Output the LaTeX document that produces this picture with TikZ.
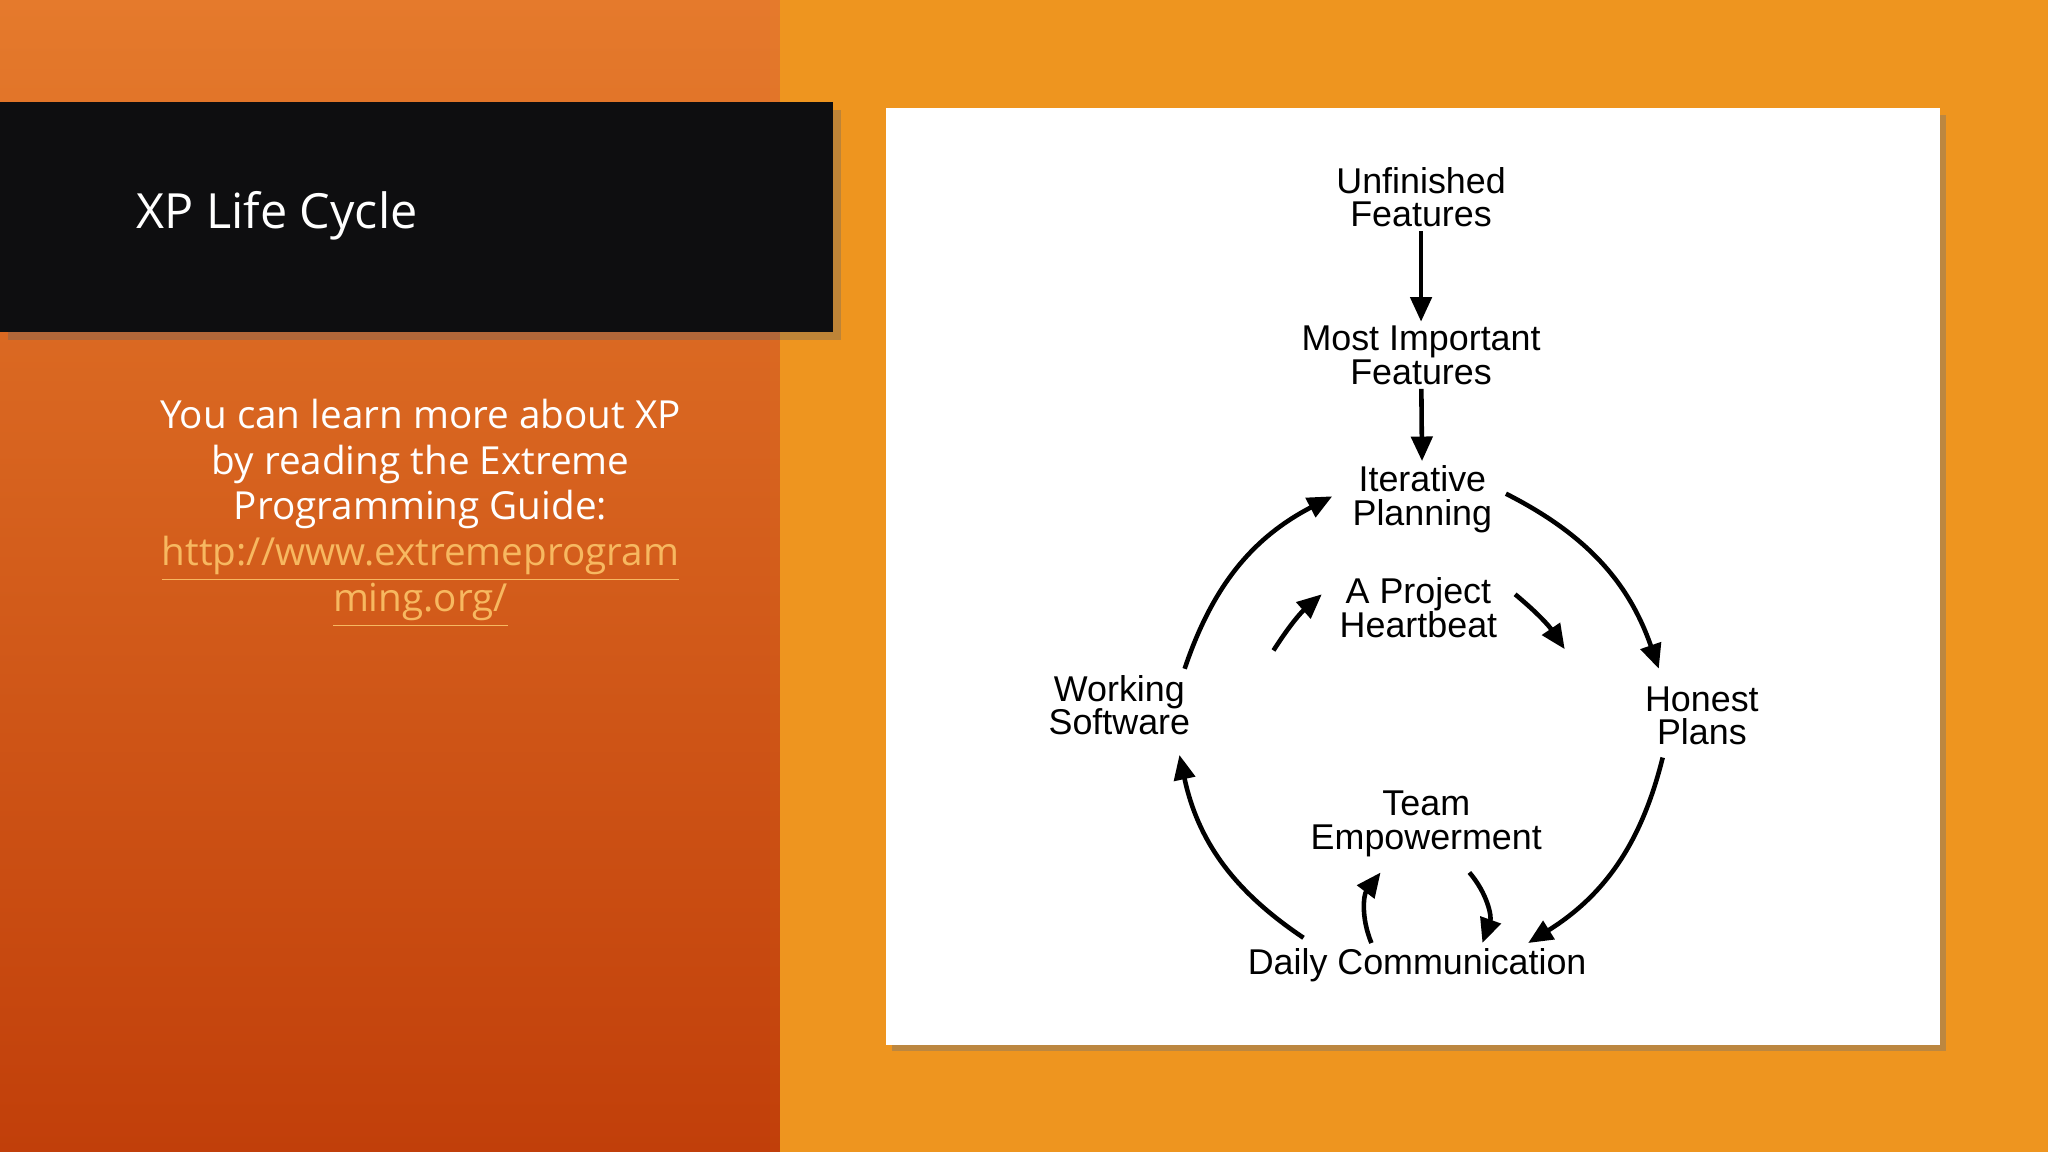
\documentclass[tikz,border=0pt]{standalone}
\usepackage{fontspec}
\setmainfont{Open Sans}
\newfontfamily\diag{Liberation Sans}
\usetikzlibrary{arrows.meta,shadows}
\definecolor{bgor}{HTML}{EE951F}
\definecolor{gtop}{HTML}{E57A2C}
\definecolor{gbot}{HTML}{C13F0A}
\definecolor{linkc}{HTML}{F7B860}
\definecolor{titbg}{HTML}{0E0E10}
\tikzset{
 lbl/.style={font=\diag\fontsize{10.2}{9.6}\selectfont,align=center,inner sep=1pt},
 arr/.style={-{Triangle[length=7pt,width=6pt]},line width=1.3pt,black},
}
\begin{document}
\begin{tikzpicture}[x=0.01306cm,y=-0.01306cm]
\useasboundingbox (0,0) rectangle (1568,882);
\fill[bgor] (0,0) rectangle (1568,882);
\shade[shading angle=160,top color=gtop,bottom color=gbot] (0,0) rectangle (597,882);
\fill[black!60,opacity=0.35] (6,84) rectangle (644,260);
\fill[titbg] (0,78) rectangle (638,254);
\node[anchor=west,text=white,font=\fontsize{13.8}{16}\selectfont] (title) at (95,165) {XP Life Cycle};
\node[align=center,text=white,font=\fontsize{11}{13}\selectfont] (body) at (322,393)
 {You can learn more about XP\\by reading the Extreme\\Programming Guide:\\
 \textcolor{linkc}{\underline{http://www.extremeprogram}}\\\textcolor{linkc}{\underline{ming.org/}}};
\fill[black!55,opacity=0.4] (683,88) rectangle (1490,805);
\fill[white] (678,83) rectangle (1485,800);
\node[lbl] (uf) at (1088,151) {Unfinished\\Features};
\node[lbl] (mi) at (1088,272) {Most Important\\Features};
\node[lbl] (ip) at (1089,382) {Iterative\\Planning};
\node[lbl] (hb) at (1086,465) {A Project\\Heartbeat};
\node[lbl] (ws) at (857,540) {Working\\Software};
\node[lbl] (hp) at (1303,548) {Honest\\Plans};
\node[lbl] (te) at (1092,631) {Team\\Empowerment};
\node[lbl] (dc) at (1085,739) {Daily Communication};
\draw[arr] (uf) -- (mi);
\draw[arr] (mi) -- (ip);
\draw[arr] (1153,378) to[bend left=22] (1270,512);
\draw[arr] (1273,580) to[bend left=22] (1170,722);
\draw[arr] (998,718) to[bend left=22] (903,578);
\draw[arr] (907,512) to[bend left=22] (1020,380);
\draw[arr] (975,498) to[bend left=8] (1012,455);
\draw[arr] (1160,455) to[bend left=8] (1198,497);
\draw[arr] (1050,722) to[bend left=30] (1057,668);
\draw[arr] (1125,668) to[bend left=30] (1135,722);
\end{tikzpicture}
\end{document}
